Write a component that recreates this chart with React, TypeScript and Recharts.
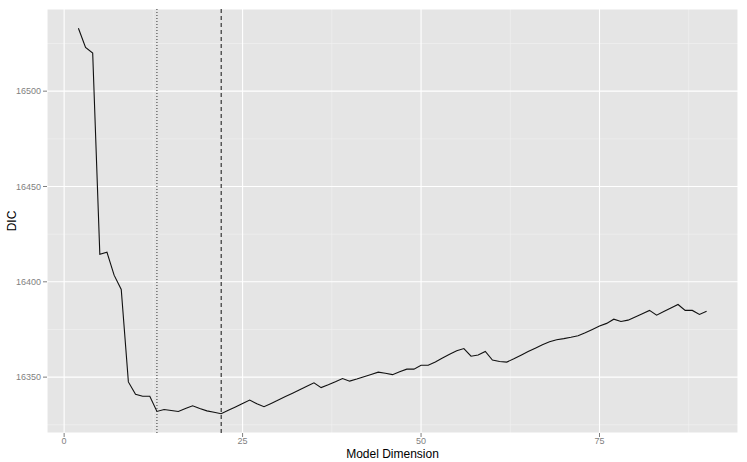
import {
  LineChart,
  Line,
  XAxis,
  YAxis,
  CartesianGrid,
  ReferenceLine,
  Label
} from "recharts"

// model dimension (x) and DIC value (y)
const modelDims = [
  2, 3, 4, 5, 6, 7, 8, 9, 10, 11, 12, 13, 14, 15, 16, 17, 18, 19, 20, 21,
  22, 23, 24, 25, 26, 27, 28, 29, 30, 31, 32, 33, 34, 35, 36, 37, 38, 39, 40,
  41, 42, 43, 44, 45, 46, 47, 48, 49, 50, 51, 52, 53, 54, 55, 56, 57, 58, 59,
  60, 61, 62, 63, 64, 65, 66, 67, 68, 69, 70, 71, 72, 73, 74, 75, 76, 77, 78,
  79, 80, 81, 82, 83, 84, 85, 86, 87, 88, 89, 90
]

const dicValues = [
  16533, 16523, 16520, 16414.5, 16415.5, 16403.5, 16396, 16347.5, 16341, 16340,
  16340, 16332, 16333, 16332.5, 16332, 16333.5, 16335, 16333.5, 16332.3, 16331.6,
  16330.8, 16332.6, 16334.4, 16336.2, 16338, 16336, 16334.5, 16336.2, 16338, 16339.8,
  16341.6, 16343.4, 16345.2, 16347, 16344.5, 16346, 16347.6, 16349.3, 16347.9, 16349,
  16350.2, 16351.4, 16352.6, 16352, 16351.3, 16352.8, 16354.2, 16354.2, 16356.2, 16356.2,
  16358, 16360, 16362, 16363.8, 16365, 16361, 16361.6, 16363.5, 16359, 16358.2,
  16357.9, 16359.6, 16361.5, 16363.4, 16365.2, 16367, 16368.6, 16369.6, 16370.2, 16370.9,
  16371.7, 16373.3, 16375, 16376.8, 16378.2, 16380.4, 16379.2, 16379.9, 16381.6, 16383.3,
  16385, 16382.5, 16384.4, 16386.3, 16388.1, 16385, 16385, 16382.9, 16384.6
]

const xTicks = [0, 25, 50, 75]
const yTicks = [16350, 16400, 16450, 16500]
const xMinor = [12.5, 37.5, 62.5, 87.5]
const yMinor = [16325, 16375, 16425, 16475, 16525]

// chosen dimensions marked on the plot
const dottedCut = 13
const dashedCut = 22

const data = modelDims.map((d, i) => ({ dim: d, dic: dicValues[i] }))

const tickStyle = { fill: "#7F7F7F", fontSize: 9 }

export default function App() {
  return (
    <div style={{ width: 747, height: 462 }}>
      <style>{"body{margin:0}"}</style>
      <LineChart
        width={747}
        height={462}
        data={data}
        margin={{ top: 9, right: 9, left: 0, bottom: 0 }}
        style={{ fontFamily: "'Liberation Sans', Arial, sans-serif" }}
      >
        <CartesianGrid
          fill="#E5E5E5"
          stroke="#F2F2F2"
          strokeWidth={0.6}
          horizontalValues={yMinor}
          verticalValues={xMinor}
        />
        <CartesianGrid stroke="#FFFFFF" strokeWidth={1.1} />
        <XAxis
          dataKey="dim"
          type="number"
          domain={[-2.4, 94.4]}
          ticks={xTicks}
          allowDataOverflow
          height={29}
          axisLine={false}
          tickSize={4}
          tickMargin={1}
          tickLine={{ stroke: "#7F7F7F" }}
          tick={tickStyle}
        >
          <Label
            value="Model Dimension"
            position="insideBottom"
            offset={4}
            fontSize={12}
            fill="#000000"
          />
        </XAxis>
        <YAxis
          type="number"
          domain={[16320.7, 16543.1]}
          ticks={yTicks}
          allowDataOverflow
          width={47}
          axisLine={false}
          tickSize={4}
          tickMargin={2}
          tickLine={{ stroke: "#7F7F7F" }}
          tick={tickStyle}
        >
          <Label
            content={({ viewBox }: any) => {
              const cx = viewBox.x + 12
              const cy = viewBox.y + viewBox.height / 2
              return (
                <text
                  x={cx}
                  y={cy}
                  transform={`rotate(-90, ${cx}, ${cy})`}
                  textAnchor="middle"
                  dominantBaseline="central"
                  fontSize={12}
                  fill="#000000"
                >
                  DIC
                </text>
              )
            }}
          />
        </YAxis>
        <Line
          type="linear"
          dataKey="dic"
          stroke="#111111"
          strokeWidth={1.1}
          dot={false}
          isAnimationActive={false}
        />
        <ReferenceLine x={dottedCut} stroke="#333333" strokeWidth={1} strokeDasharray="1 2" />
        <ReferenceLine x={dashedCut} stroke="#111111" strokeWidth={1} strokeDasharray="4 3" />
      </LineChart>
    </div>
  )
}
